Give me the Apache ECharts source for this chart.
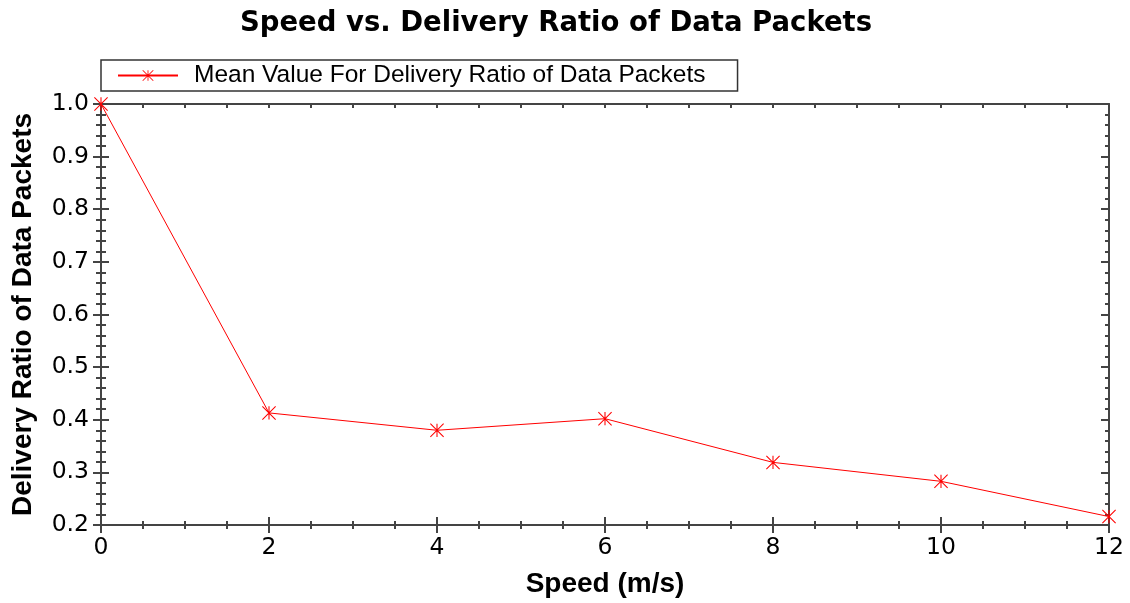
<!DOCTYPE html>
<html>
<head>
<meta charset="utf-8">
<script src="https://cdn.jsdelivr.net/npm/echarts@6/dist/echarts.min.js"></script>
<style>html,body{margin:0;padding:0;background:#fff}#c{width:1130px;height:603px}</style>
</head>
<body>
<div id="c"></div>
<script>
const speeds = [0, 2, 4, 6, 8, 10, 12];
const deliveryRatio = [1.0, 0.413, 0.380, 0.402, 0.319, 0.283, 0.216];
const seriesName = 'Mean Value For Delivery Ratio of Data Packets';
const titleText = 'Speed vs. Delivery Ratio of Data Packets';
const xName = 'Speed (m/s)';
const yName = 'Delivery Ratio of Data Packets';

const asterisk = 'path://M46,0 L54,0 L54,100 L46,100 Z ' +
  'M2.83,-2.83 L102.83,97.17 L97.17,102.83 L-2.83,2.83 Z ' +
  'M102.83,2.83 L2.83,102.83 L-2.83,97.17 L97.17,-2.83 Z';

const ARIAL = 'Liberation Sans, Arial, sans-serif';
const WIDE = 'DejaVu Sans, Verdana, sans-serif';
const axisColor = '#444';
const chart = echarts.init(document.getElementById('c'));
const pts = speeds.map((s, i) => [s, deliveryRatio[i]]);

const baseX = {
  type: 'value', min: 0, max: 12, interval: 2,
  splitLine: {show: false},
  axisLine: {show: true, onZero: false, lineStyle: {color: axisColor, width: 2}},
};
const baseY = {
  type: 'value', min: 0.2, max: 1.0, interval: 0.1,
  splitLine: {show: false},
  axisLine: {show: true, onZero: false, lineStyle: {color: axisColor, width: 2}},
};

chart.setOption({
  animation: false,
  backgroundColor: '#fff',
  title: {
    text: titleText, left: 551, textAlign: 'center', top: 5,
    textStyle: {fontFamily: WIDE, fontWeight: 'bold', fontSize: 27.5, color: '#000'}
  },
  legend: {
    left: 101, top: 60,
    data: [seriesName],
    itemWidth: 60, itemHeight: 14, itemGap: 0,
    padding: [3, 32, 3, 16],
    borderColor: '#333', borderWidth: 1.5, borderRadius: 0,
    textStyle: {fontFamily: ARIAL, fontSize: 24.5, color: '#000', padding: [0, 0, 0, 11]}
  },
  grid: {left: 101, right: 21, top: 104, bottom: 77, containLabel: false},
  xAxis: [
    Object.assign({}, baseX, {
      position: 'bottom',
      name: xName, nameLocation: 'middle', nameGap: 45,
      nameTextStyle: {fontFamily: ARIAL, fontWeight: 'bold', fontSize: 28, color: '#000'},
      axisLabel: {fontFamily: WIDE, fontSize: 23.5, color: '#000', margin: 11},
      axisTick: {show: true, inside: false, length: 8, lineStyle: {color: axisColor, width: 2}},
      minorTick: {show: true, splitNumber: 4, length: 4, lineStyle: {color: axisColor, width: 2}}
    }),
    Object.assign({}, baseX, {
      position: 'bottom',
      axisLabel: {show: false},
      axisTick: {show: true, inside: true, length: 8, lineStyle: {color: axisColor, width: 2}},
      minorTick: {show: true, splitNumber: 4, length: 4, lineStyle: {color: axisColor, width: 2}}
    }),
    Object.assign({}, baseX, {
      position: 'top',
      axisLabel: {show: false},
      axisTick: {show: true, inside: true, length: 4, lineStyle: {color: axisColor, width: 2}},
      minorTick: {show: true, splitNumber: 4, length: 4, lineStyle: {color: axisColor, width: 2}}
    })
  ],
  yAxis: [
    Object.assign({}, baseY, {
      position: 'left',
      name: yName, nameLocation: 'middle', nameGap: 64,
      nameTextStyle: {fontFamily: ARIAL, fontWeight: 'bold', fontSize: 28, color: '#000'},
      axisLabel: {fontFamily: WIDE, fontSize: 23.5, color: '#000', margin: 12,
        formatter: v => v.toFixed(1)},
      axisTick: {show: true, inside: false, length: 8, lineStyle: {color: axisColor, width: 2}},
      minorTick: {show: true, splitNumber: 5, length: 5, lineStyle: {color: axisColor, width: 2}}
    }),
    Object.assign({}, baseY, {
      position: 'left',
      axisLabel: {show: false},
      axisTick: {show: true, inside: true, length: 8, lineStyle: {color: axisColor, width: 2}},
      minorTick: {show: true, splitNumber: 5, length: 5, lineStyle: {color: axisColor, width: 2}}
    }),
    Object.assign({}, baseY, {
      position: 'right',
      axisLabel: {show: false},
      axisTick: {show: true, inside: true, length: 8, lineStyle: {color: axisColor, width: 2}},
      minorTick: {show: true, splitNumber: 5, length: 4, lineStyle: {color: axisColor, width: 2}}
    })
  ],
  series: [{
    name: seriesName,
    type: 'line',
    xAxisIndex: 0, yAxisIndex: 0,
    data: pts,
    symbol: asterisk,
    symbolSize: 14,
    showAllSymbol: true,
    clip: false,
    lineStyle: {color: '#ff0000', width: 1},
    itemStyle: {color: '#ff0000'},
    emphasis: {disabled: true}
  }]
});
</script>
</body>
</html>
